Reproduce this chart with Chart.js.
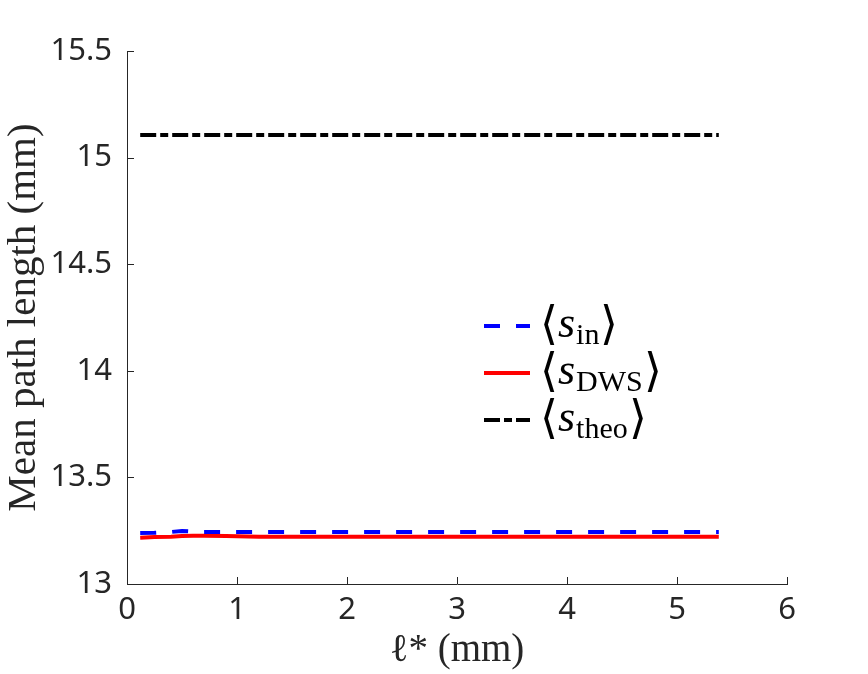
<!DOCTYPE html>
<html>
<head>
<meta charset="utf-8">
<script src="https://cdn.jsdelivr.net/npm/chart.js@4.4.0/dist/chart.umd.min.js"></script>
<style>
  html, body { margin: 0; padding: 0; background: #fff; }
</style>
</head>
<body>
<canvas id="chart" width="868" height="674"></canvas>
<script>
// values
const lStar = [0.12, 0.25, 0.4, 0.5, 0.6, 0.7, 0.9, 1.2, 1.6, 2, 2.5, 3, 3.5, 4, 4.5, 5, 5.38];
const sIn   = [13.239, 13.240, 13.244, 13.249, 13.246, 13.244, 13.244, 13.244, 13.244, 13.244, 13.244, 13.244, 13.244, 13.244, 13.244, 13.244, 13.244];
const sDws  = [13.217, 13.220, 13.222, 13.225, 13.226, 13.226, 13.225, 13.222, 13.222, 13.222, 13.222, 13.222, 13.222, 13.222, 13.222, 13.222, 13.222];
const sTheo = [15.106, 15.106, 15.106, 15.106, 15.106, 15.106, 15.106, 15.106, 15.106, 15.106, 15.106, 15.106, 15.106, 15.106, 15.106, 15.106, 15.106];

const xTicks = [0, 1, 2, 3, 4, 5, 6];
const yTicks = [13, 13.5, 14, 14.5, 15, 15.5];
const legendSubs = ['in', 'DWS', 'theo'];

const AXIS = '#262626';
const pts = ys => lStar.map((x, i) => ({ x: x, y: ys[i] }));

// inward tick marks, like the original
const innerTicks = {
    id: 'innerTicks',
    afterDraw(chart) {
        const ctx = chart.ctx;
        const { left, bottom } = chart.chartArea;
        const xs = chart.scales.x, ys = chart.scales.y;
        ctx.save();
        ctx.strokeStyle = AXIS;
        ctx.lineWidth = 1;
        ctx.beginPath();
        xTicks.forEach(v => {
            const px = Math.round(xs.getPixelForValue(v)) + 0.5;
            ctx.moveTo(px, bottom);
            ctx.lineTo(px, bottom - 7);
        });
        yTicks.forEach(v => {
            const py = Math.round(ys.getPixelForValue(v)) + 0.5;
            ctx.moveTo(left, py);
            ctx.lineTo(left + 7, py);
        });
        ctx.stroke();
        ctx.restore();
    }
};

// legend with <s_sub> labels
const mathLegend = {
    id: 'mathLegend',
    afterDraw(chart) {
        const ctx = chart.ctx;
        const x0 = 484, y0 = 326, gap = 47;
        ctx.save();
        chart.data.datasets.forEach((ds, i) => {
            const y = y0 + i * gap;
            ctx.strokeStyle = ds.borderColor;
            ctx.lineWidth = ds.borderWidth;
            ctx.setLineDash(ds.borderDash || []);
            ctx.beginPath();
            ctx.moveTo(x0, y);
            ctx.lineTo(x0 + 46, y);
            ctx.stroke();
            ctx.setLineDash([]);

            ctx.fillStyle = '#000';
            ctx.textBaseline = 'alphabetic';
            const base = y + 11;
            let x = x0 + 56;
            ctx.font = '300 46px "DejaVu Sans"';
            ctx.fillText('\u27E8', x, base + 2);
            x += ctx.measureText('\u27E8').width;
            ctx.font = 'italic 44px "Liberation Serif"';
            ctx.fillText('s', x, base);
            x += ctx.measureText('s').width + 1;
            ctx.font = '30px "Liberation Serif"';
            ctx.fillText(legendSubs[i], x, base + 7);
            x += ctx.measureText(legendSubs[i]).width + 1;
            ctx.font = '300 46px "DejaVu Sans"';
            ctx.fillText('\u27E9', x, base + 2);
        });
        ctx.restore();
    }
};

new Chart(document.getElementById('chart'), {
    type: 'line',
    data: {
        datasets: [
            {
                label: 's_in',
                data: pts(sIn),
                borderColor: '#0000ff',
                borderWidth: 4,
                borderDash: [16, 16],
                pointRadius: 0
            },
            {
                label: 's_DWS',
                data: pts(sDws),
                borderColor: '#ff0000',
                borderWidth: 4,
                pointRadius: 0
            },
            {
                label: 's_theo',
                data: pts(sTheo),
                borderColor: '#000000',
                borderWidth: 4,
                borderDash: [16, 4, 8, 4],
                pointRadius: 0
            }
        ]
    },
    options: {
        responsive: false,
        animation: false,
        layout: { padding: { left: 0, top: 51, right: 81, bottom: 0 } },
        plugins: {
            legend: { display: false },
            tooltip: { enabled: false }
        },
        scales: {
            x: {
                type: 'linear',
                min: 0,
                max: 6,
                afterBuildTicks: s => { s.ticks = xTicks.map(v => ({ value: v })); },
                afterFit: s => { s.height = 90; },
                grid: { display: false },
                border: { display: true, color: AXIS, width: 1 },
                ticks: {
                    color: AXIS,
                    padding: 0,
                    maxRotation: 0,
                    font: { family: '"Noto Sans"', size: 31 },
                    callback: v => String(v)
                },
                title: {
                    display: true,
                    text: '\u2113* (mm)',
                    color: AXIS,
                    padding: { top: 0, bottom: 0 },
                    font: { family: '"Liberation Serif"', size: 39 }
                }
            },
            y: {
                min: 13,
                max: 15.5,
                afterBuildTicks: s => { s.ticks = yTicks.map(v => ({ value: v })); },
                afterFit: s => { s.width = 127; },
                grid: { display: false },
                border: { display: true, color: AXIS, width: 1 },
                ticks: {
                    color: AXIS,
                    padding: 7,
                    font: { family: '"Noto Sans"', size: 31 },
                    callback: v => String(v)
                },
                title: {
                    display: true,
                    text: 'Mean path length (mm)',
                    color: AXIS,
                    padding: { top: 0, bottom: 0 },
                    font: { family: '"Liberation Serif"', size: 41 }
                }
            }
        }
    },
    plugins: [innerTicks, mathLegend]
});
</script>
</body>
</html>
